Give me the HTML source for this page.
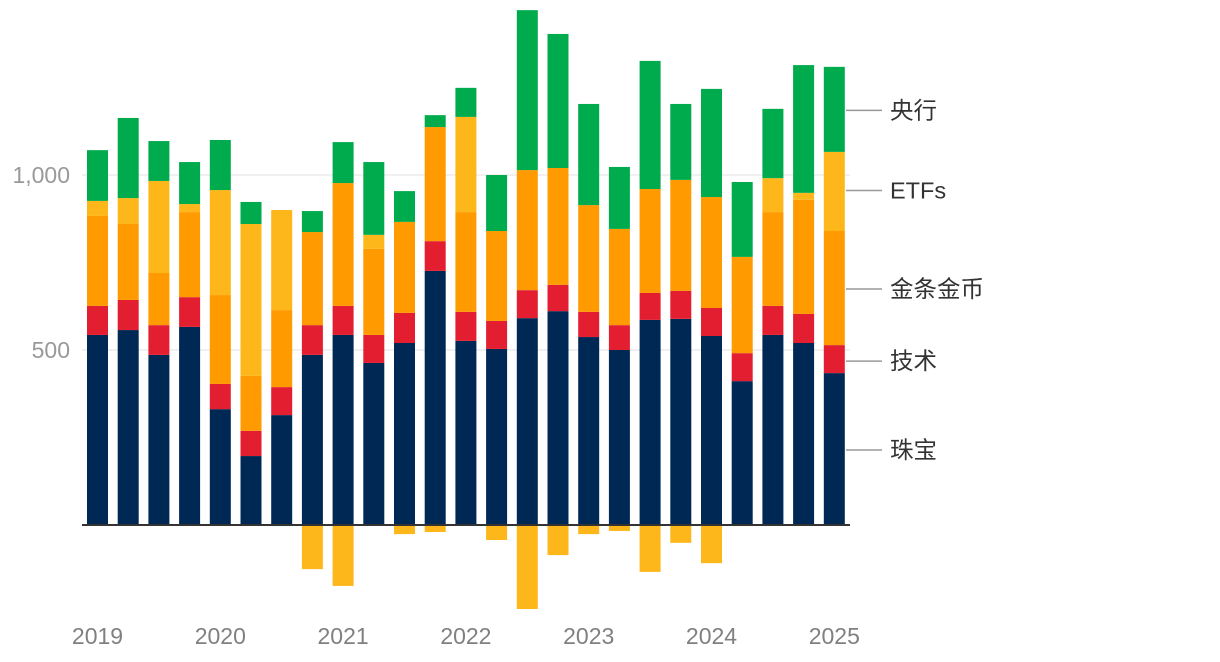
<!DOCTYPE html>
<html><head><meta charset="utf-8">
<style>
body{margin:0;background:#fff;width:1220px;height:662px;overflow:hidden}
svg{display:block}
text{font-family:"Liberation Sans","Noto Sans CJK SC",sans-serif}
</style></head>
<body>
<svg id="chart" width="1220" height="662" viewBox="0 0 1220 662" xmlns="http://www.w3.org/2000/svg"></svg>
<script>
const categories = ["2019Q1","2019Q2","2019Q3","2019Q4","2020Q1","2020Q2","2020Q3","2020Q4","2021Q1","2021Q2","2021Q3","2021Q4","2022Q1","2022Q2","2022Q3","2022Q4","2023Q1","2023Q2","2023Q3","2023Q4","2024Q1","2024Q2","2024Q3","2024Q4","2025Q1"];
const jewelry = [543,557,486,566,331,197,314,486,543,463,520,726,526,503,591,611,537,500,586,589,540,411,543,520,434];
const tech = [83,86,85,85,72,72,80,85,83,80,86,85,83,80,80,75,72,71,77,80,80,80,83,83,80];
const barCoin = [257,217,149,243,254,157,220,266,351,246,260,326,285,257,343,334,305,275,297,317,317,275,268,326,326];
const etfs = [43,74,263,23,300,434,286,-126,-174,40,-26,-20,272,-43,-240,-86,-26,-17,-134,-51,-109,-3,97,20,226];
const centralBanks = [145,229,114,120,143,63,-3,60,117,208,88,34,83,160,457,383,289,177,366,217,309,214,198,365,243];
const yTicks = [500,1000];
const yTickLabels = ["500","1,000"];
const xLabels = ["2019","2020","2021","2022","2023","2024","2025"];
const seriesNames = ["珠宝","技术","金条金币","ETFs","央行"];

const svg = document.getElementById('chart');
const NS = "http://www.w3.org/2000/svg";
const y0 = 525, scale = 0.35;
const y = v => y0 - v*scale;
const x0 = 97.5, step = 30.7, bw = 21;
const xc = i => x0 + i*step;
const colors = ["#002855","#e31e30","#ff9a00","#fdb71a","#00ab4e"];
const series = [jewelry, tech, barCoin, etfs, centralBanks];

function mk(tag, attrs){const e=document.createElementNS(NS,tag);for(const k in attrs)e.setAttribute(k,attrs[k]);svg.appendChild(e);return e;}

yTicks.forEach((t,i)=>{
  const g = mk('line',{x1:82,x2:850,y1:y(t),y2:y(t),stroke:'#e2e2e2','stroke-width':1});
  
  
  const tx = mk('text',{x:70,y:y(t)+8,'text-anchor':'end','font-size':23,fill:'#999'});
  tx.textContent = yTickLabels[i];
  
  
});

categories.forEach((c,i)=>{
  let pos=0, neg=0;
  series.forEach((s,k)=>{
    const v=s[i]; let top,h;
    if(v>=0){top=y(pos+v);h=v*scale;pos+=v;}else{top=y(neg);h=-v*scale;neg+=v;}
    const r = mk('rect',{x:xc(i)-bw/2,y:top,width:bw,height:h,fill:colors[k]});
    
    
  });
});

const ax = mk('line',{x1:82,x2:850,y1:y0,y2:y0,stroke:'#333','stroke-width':2});



xLabels.forEach((l,j)=>{
  const t = mk('text',{x:xc(j*4),y:644,'text-anchor':'middle','font-size':23,fill:'#808080'});
  t.textContent=l;
  
  
});

const last = categories.length-1;
let acc=0;
const legendY=[];
series.forEach((s,k)=>{const v=s[last];legendY.push(y(acc+v/2));acc+=v;});
const legendAdj=[1,2,1,-1,1];
series.forEach((s,k)=>{
  const ly=legendY[k]+legendAdj[k];
  const ln = mk('line',{x1:846,x2:882,y1:ly,y2:ly,stroke:'#999','stroke-width':1.5});
  
  
  const t = mk('text',{x:890,y:ly+8,'font-size':23.5,fill:'#333'});
  t.textContent=seriesNames[k];
  
  
});
</script>
</body></html>
